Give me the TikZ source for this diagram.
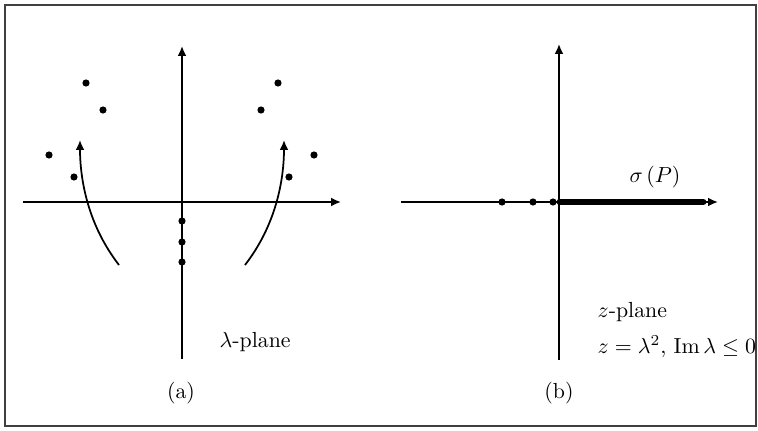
\documentclass[tikz,border=0pt]{standalone}
\usepackage{amsmath,amssymb}
\usepackage{tikz}
\usetikzlibrary{positioning,arrows.meta}

\tikzset{
  axis/.style={line width=0.8pt,-{Latex[length=4.5pt,width=4pt]}},
  eig/.style={circle,fill,inner sep=0pt,minimum size=3.3pt},
}

\begin{document}
\begin{tikzpicture}[x=0.01612cm,y=-0.01612cm]

		\useasboundingbox (0,0) rectangle (758,431);
		\draw[line width=0.8pt,black!75] (5,5) rectangle (756,426);
		
		% (a) lambda-plane
		\coordinate (aW) at (23,202);
		\coordinate (aE) at (341,202);
		\coordinate (aS) at (182,359);
		\coordinate (aN) at (182,46);
		\draw[axis] (aW) -- (aE);
		\draw[axis] (aS) -- (aN);
		
		\node[eig] (l1) at (86,83) {};
		\node[eig] (l2) at (103,110) {};
		\node[eig] (l3) at (49,155) {};
		\node[eig] (l4) at (74,177) {};
		\node[eig] (r1) at (278,83) {};
		\node[eig] (r2) at (261,110) {};
		\node[eig] (r3) at (314,155) {};
		\node[eig] (r4) at (289,177) {};
		\node[eig] (m1) at (182,221) {};
		\node[eig] (m2) at (182,242) {};
		\node[eig] (m3) at (182,262) {};
		
		\coordinate (pl0) at (119,265);
		\coordinate (pl1) at (80,140);
		\coordinate (pr0) at (245,265);
		\coordinate (pr1) at (284,140);
		\draw[axis] (pl0) .. controls (88,225) and (80,180) .. (pl1);
		\draw[axis] (pr0) .. controls (276,225) and (284,180) .. (pr1);
		
		\node[anchor=base west] (lam) at (212,347) {$\lambda$-plane};
		\node (capa) at (181,393) {(a)};
		
		% (b) z-plane
		\coordinate (bW) at (401,202);
		\coordinate (bE) at (718,202);
		\coordinate (bS) at (559,360);
		\coordinate (bN) at (559,44);
		\draw[axis] (bW) -- (bE);
		\draw[axis] (bS) -- (bN);
		
		\node[eig] (z1) at (502,202) {};
		\node[eig] (z2) at (533,202) {};
		\node[eig] (z3) at (553,202) {};
		\coordinate (s0) at (560,202);
		\coordinate (s1) at (703,202);
		\draw[line width=3.2pt,line cap=round] (s0) -- (s1);
		
		\node[anchor=base] (sig) at (655,182) {$\sigma\,(P)$};
		\node[anchor=base west] (zp) at (590,317) {$z$-plane};
		\node[anchor=base west] (zmap) at (590,353) {$z=\lambda^2,\,\operatorname{Im}\lambda\le 0$};
		\node (capb) at (559,393) {(b)};
		
	\end{tikzpicture}
\end{document}
